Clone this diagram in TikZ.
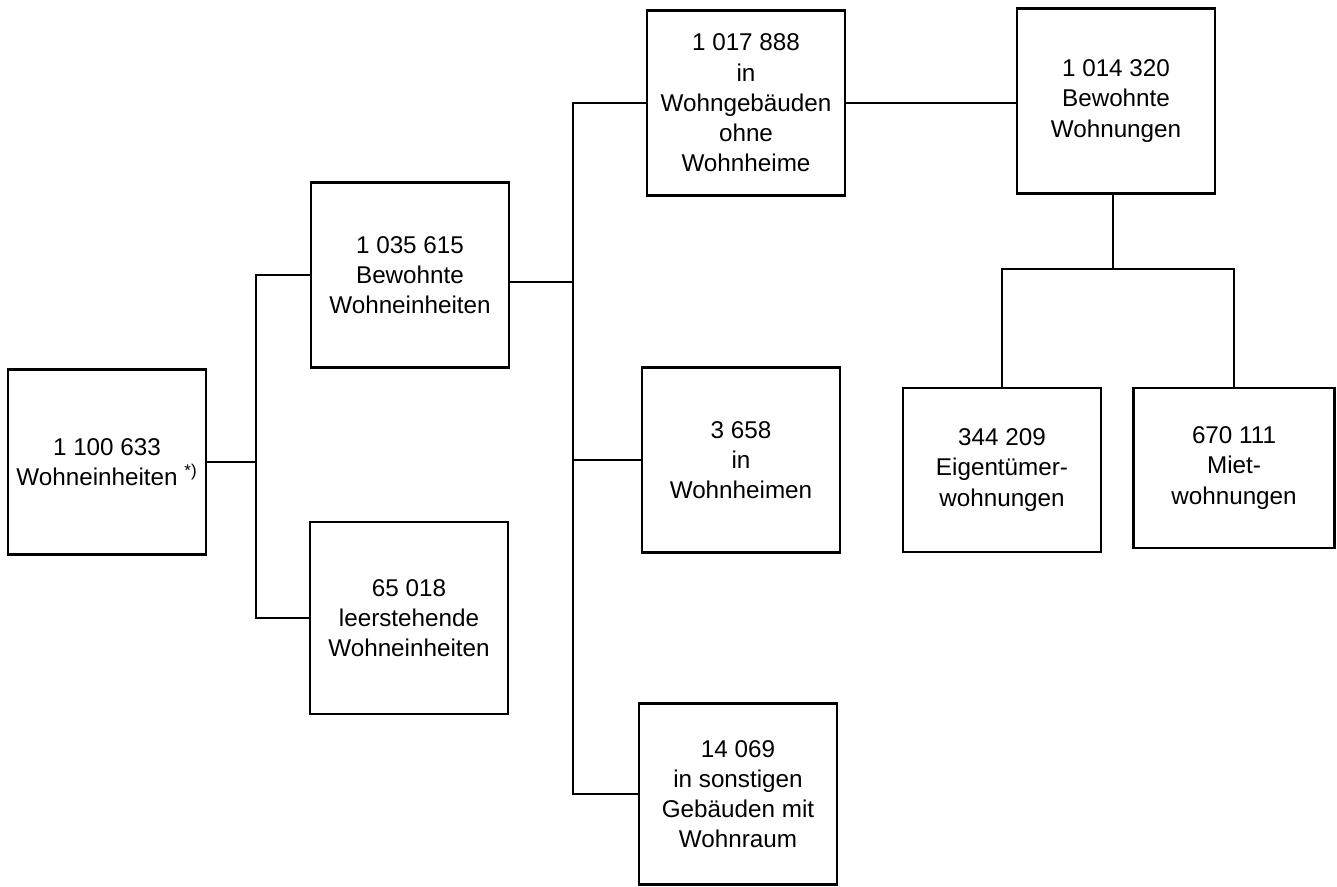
\documentclass[tikz,border=0pt]{standalone}
\usepackage{fontspec}
\setmainfont{Liberation Sans}
\usepackage{tikz}
\usetikzlibrary{positioning, calc}

\begin{document}
\begin{tikzpicture}[
    x=0.02cm, y=-0.02cm,
    box/.style={rectangle, draw=black, line width=1.5pt, fill=white,
        minimum width=3.96cm, minimum height=3.7cm, inner sep=2pt, align=center,
        font=\fontsize{13.8}{17.2}\selectfont},
    link/.style={draw=black, line width=1.2pt}
]
\useasboundingbox (0,0) rectangle (1337,886);

% Level 1 and 2
\node[box] (total) at (107,462) {1 100 633\\Wohneinheiten \textsuperscript{*)}};
\node[box] (bewohnt) at (410,275) {1 035 615\\Bewohnte\\Wohneinheiten};
\node[box, minimum height=3.84cm] (leer) at (409,618) {65 018\\leerstehende\\Wohneinheiten};

% Level 3
\node[box] (wohngeb) at (746,103) {1 017 888\\in\\Wohngebäuden\\ohne\\Wohnheime};
\node[box] (heime) at (741,460) {3 658\\in\\Wohnheimen};
\node[box, minimum height=3.62cm] (sonst) at (738,794) {14 069\\in sonstigen\\Gebäuden mit\\Wohnraum};

% Level 4
\node[box] (wohnungen) at (1116,101) {1 014 320\\Bewohnte\\Wohnungen};
\node[box, minimum height=3.28cm] (eigen) at (1002,470) {344 209\\Eigentümer-\\wohnungen};
\node[box, minimum width=4.02cm, minimum height=3.2cm] (miet) at (1234,468) {670 111\\Miet-\\wohnungen};

% Junctions
\coordinate (j1) at (256,462);
\coordinate (j2) at (573,282);
\coordinate (j3) at (1113,269);

% Connectors
\draw[link] (total.east) -- (j1);
\draw[link] (bewohnt.west) -| (j1) |- (leer.west);
\draw[link] (bewohnt.east |- j2) -- (j2);
\draw[link] (wohngeb.west) -| (j2) |- (sonst.west);
\draw[link] (j2) |- (heime.west);
\draw[link] (wohngeb.east) -- (wohngeb.east -| wohnungen.west);
\draw[link] (wohnungen.south -| j3) -- (j3);
\draw[link] (eigen.north) |- (j3) -| (miet.north);

\end{tikzpicture}
\end{document}
